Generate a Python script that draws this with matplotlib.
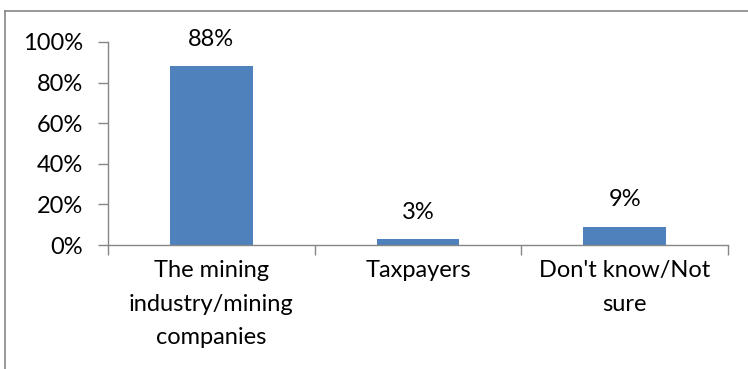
import matplotlib.pyplot as plt
import numpy as np
from matplotlib.lines import Line2D

categories = ["The mining\nindustry/mining\ncompanies", "Taxpayers", "Don't know/Not\nsure"]
values = [88, 3, 9]
labels = ["88%", "3%", "9%"]

plt.rcParams['font.family'] = ['Lato', 'DejaVu Sans']

W, H = 748, 369
fig = plt.figure(figsize=(W / 100, H / 100), dpi=100)
ax = fig.add_axes([108 / W, 1 - 245 / H, (728 - 108) / W, (245 - 42) / H])

gray = "#868686"
fs = 17
x = np.arange(len(categories))
ax.bar(x, values, width=0.4, color="#4F81BD")
for xi, v, lab in zip(x, values, labels):
    ax.text(xi, v + 8, lab, ha="center", va="bottom", fontsize=fs)

ax.set_xlim(-0.5, 2.5)
ax.set_ylim(0, 100)
ax.set_yticks(np.arange(0, 101, 20))
ax.set_yticklabels([f"{t}%" for t in range(0, 101, 20)], fontsize=fs)
ax.set_xticks(x)
ax.set_xticklabels(categories, fontsize=fs, linespacing=1.72)
ax.tick_params(axis="x", length=0, pad=11)
ax.set_xticks([-0.5, 0.5, 1.5, 2.5], minor=True)
ax.tick_params(axis="x", which="minor", length=7, color=gray, width=1)
ax.tick_params(axis="y", length=7, color=gray, width=1, pad=11)

for s in ["top", "right"]:
    ax.spines[s].set_visible(False)
for s in ["left", "bottom"]:
    ax.spines[s].set_color(gray)
    ax.spines[s].set_linewidth(1)

# outer chart border (top and left visible)
fig.add_artist(Line2D([5 / W, 1], [1 - 11 / H, 1 - 11 / H], color=gray, lw=1.2, transform=fig.transFigure))
fig.add_artist(Line2D([5 / W, 5 / W], [0, 1 - 11 / H], color=gray, lw=1.2, transform=fig.transFigure))

fig.savefig("out.png", dpi=100)
